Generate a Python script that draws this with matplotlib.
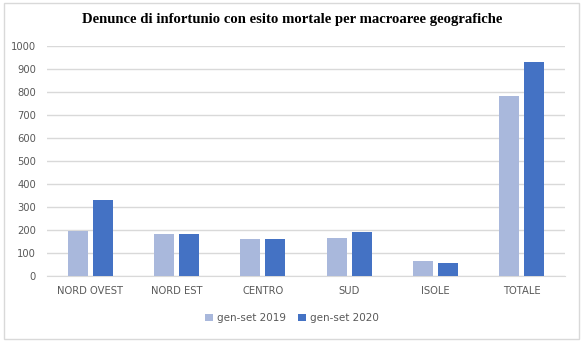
import matplotlib.pyplot as plt
import numpy as np
from matplotlib.patches import Rectangle

# data
categories = ["NORD OVEST", "NORD EST", "CENTRO", "SUD", "ISOLE", "TOTALE"]
values_2019 = [196, 183, 161, 165, 65, 783]
values_2020 = [330, 183, 161, 191, 56, 930]
series_labels = ["gen-set 2019", "gen-set 2020"]
yticks = [0, 100, 200, 300, 400, 500, 600, 700, 800, 900, 1000]

col_2019 = "#A9B8DC"
col_2020 = "#4472C4"
grey_txt = "#595959"

fig = plt.figure(figsize=(5.84, 3.44), dpi=100)
# outer border of the chart area
fig.patches.append(Rectangle((0.006, 0.015), 0.985, 0.975, transform=fig.transFigure,
                             fill=False, edgecolor="#D9D9D9", linewidth=1.0))

ax = fig.add_axes([47 / 584, 1 - 276 / 344, (565 - 47) / 584, (276 - 46) / 344])

x = np.arange(len(categories))
w = 0.23
ax.bar(x - 0.145, values_2019, w, color=col_2019, label=series_labels[0], zorder=3)
ax.bar(x + 0.145, values_2020, w, color=col_2020, label=series_labels[1], zorder=3)

ax.set_xlim(-0.5, len(categories) - 0.5)
ax.set_ylim(0, 1000)
ax.set_yticks(yticks)
ax.yaxis.grid(True, color="#D9D9D9", linewidth=1.0, zorder=0)
ax.set_xticks(x)
ax.set_xticklabels(categories)
ax.tick_params(axis="both", length=0, labelsize=7.2, colors=grey_txt, labelcolor=grey_txt)
ax.tick_params(axis="x", pad=7)
ax.tick_params(axis="y", pad=8)
for s in ["top", "right", "left"]:
    ax.spines[s].set_visible(False)
ax.spines["bottom"].set_color("#D9D9D9")

fig.text(0.5, 1 - 19 / 344, "Denunce di infortunio con esito mortale per macroaree geografiche",
         ha="center", va="center", family="Liberation Serif", fontweight="bold", fontsize=10.6)

leg = fig.legend(loc="center", bbox_to_anchor=(0.5, 1 - 318 / 344), ncol=2, frameon=False,
                 fontsize=7.5, handlelength=0.7, handleheight=0.7, handletextpad=0.4,
                 columnspacing=1.2)
for t in leg.get_texts():
    t.set_color(grey_txt)

plt.savefig("out.png", dpi=100)
